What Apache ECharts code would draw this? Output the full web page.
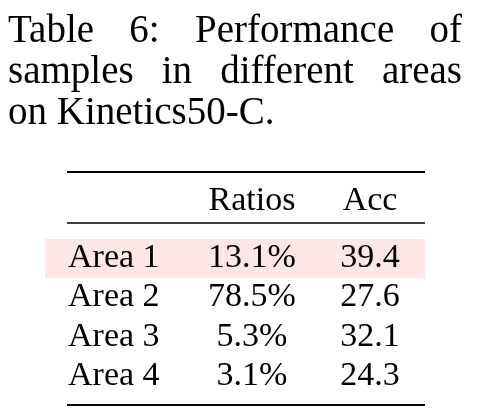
<!DOCTYPE html>
<html><head><meta charset="utf-8">
<script src="https://cdn.jsdelivr.net/npm/echarts@6/dist/echarts.min.js"></script>
<style>html,body{margin:0;background:#fff}#c{width:480px;height:420px}</style>
</head><body><div id="c"></div>
<script>
const captionLines = [["Table","6:","Performance","of"],["samples","in","different","areas"],["on","Kinetics50-C."]];
const headers = ["", "Ratios", "Acc"];
const areas = ["Area 1","Area 2","Area 3","Area 4"];
const ratios = ["13.1%","78.5%","5.3%","3.1%"];
const accs = ["39.4","27.6","32.1","24.3"];
const highlightRow = 0;

const font = '"Liberation Serif","DejaVu Serif",serif';
const capFont = '39px ' + font, tabFont = '34px ' + font;
const chart = echarts.init(document.getElementById('c'));
const els = [];
const capY = [32, 73, 114], L = 8, R = 462;
const cvs = document.createElement('canvas').getContext('2d');
cvs.font = capFont;
captionLines.forEach((words, i) => {
  const justify = i < captionLines.length - 1;
  const widths = words.map(w => cvs.measureText(w).width);
  const total = widths.reduce((a,b)=>a+b,0);
  const gap = justify ? (R - L - total) / (words.length - 1) : cvs.measureText(' ').width;
  let x = L;
  words.forEach((w, j) => {
    els.push({type:'text', x:x, y:capY[i], style:{text:w, font:capFont, fill:'#000', align:'left', verticalAlign:'middle'}});
    x += widths[j] + gap;
  });
});
const rules = [[172,2],[223,1.3],[405,2]];
rules.forEach(([y,w]) => els.push({type:'line', shape:{x1:67,y1:y,x2:425,y2:y}, style:{stroke:'#000', lineWidth:w}}));
const rowY = [258, 297, 337, 376];
els.push({type:'rect', shape:{x:45, y:rowY[highlightRow]-19, width:380, height:39}, style:{fill:'#fde6e6'}, z:-1});
const colX = [68, 252, 370];
headers.forEach((h, j) => { if (h) els.push({type:'text', x:colX[j], y:201, style:{text:h, font:tabFont, fill:'#000', align:'center', verticalAlign:'middle'}}); });
areas.forEach((a, i) => {
  els.push({type:'text', x:colX[0], y:rowY[i], style:{text:a, font:tabFont, fill:'#000', align:'left', verticalAlign:'middle'}});
  els.push({type:'text', x:colX[1], y:rowY[i], style:{text:ratios[i], font:tabFont, fill:'#000', align:'center', verticalAlign:'middle'}});
  els.push({type:'text', x:colX[2], y:rowY[i], style:{text:accs[i], font:tabFont, fill:'#000', align:'center', verticalAlign:'middle'}});
});
chart.setOption({animation:false, graphic:{elements:els}});
</script></body></html>
